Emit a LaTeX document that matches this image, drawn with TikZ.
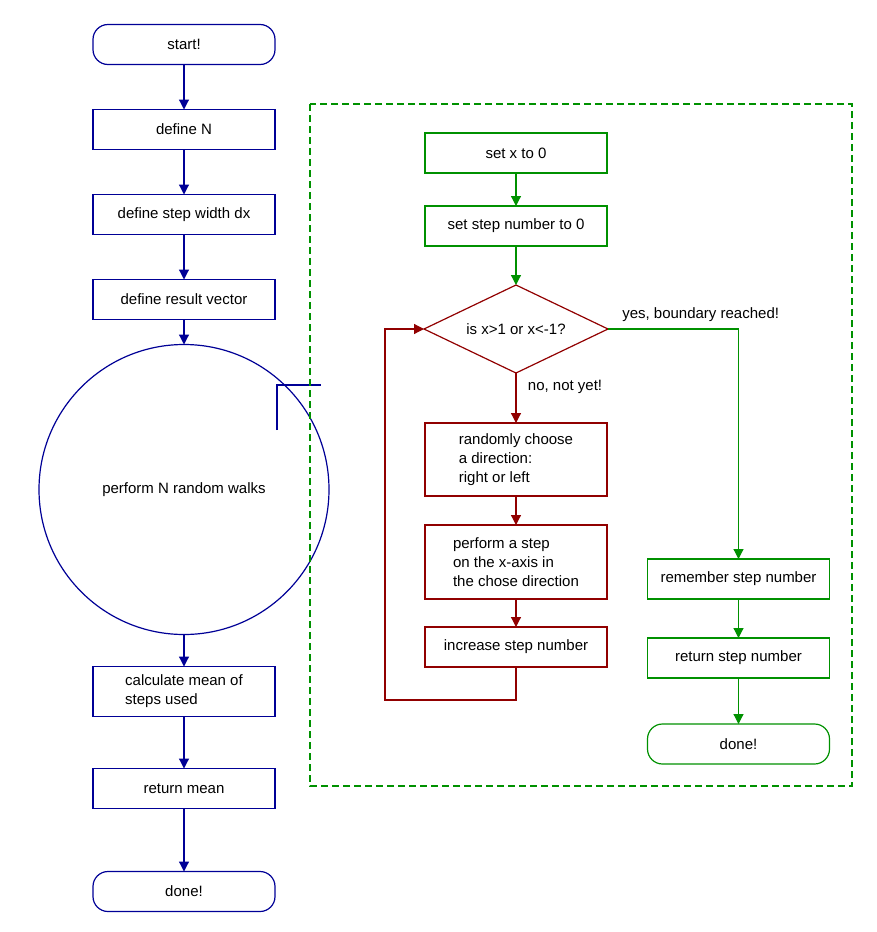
\documentclass[tikz,border=0pt]{standalone}
\usepackage{fontspec}
\setmainfont{Liberation Sans}
\usetikzlibrary{positioning,shapes.geometric,arrows.meta}
\definecolor{flowblue}{RGB}{0,0,150}
\definecolor{flowred}{RGB}{145,0,0}
\definecolor{flowgreen}{RGB}{0,145,0}

\begin{document}
\begin{tikzpicture}[x=1pt,y=-1pt,->,>={Triangle[length=10pt,width=10pt]},line width=1.2pt,node distance=45pt,
    box/.style={shape=rectangle,draw=#1,outer sep=0pt,minimum width=182pt,minimum height=40pt,align=left,font=\fontsize{15}{19}\selectfont},
    box/.default=black,
    end box/.style={box=#1,rounded corners=15pt},
    lbl/.style={text=black,font=\fontsize{15}{19}\selectfont}]
    \useasboundingbox (0,0) rectangle (876,932);

    % main program
    \node[end box=flowblue] (start) at (184,44.5) {start!};
    \node[box=flowblue] (defN) [below=of start] {define N};
    \node[box=flowblue] (defdx) [below=of defN] {define step width dx};
    \node[box=flowblue] (defres) [below=of defdx] {define result vector};
    \node[circle,draw=flowblue,outer sep=0pt,minimum size=290pt,font=\fontsize{15}{19}\selectfont] (walks) [below=25pt of defres] {perform N random walks};
    \node[box=flowblue,minimum height=50pt] (mean) [below=32pt of walks] {calculate mean of\\steps used};
    \node[box=flowblue] (retmean) [below=52pt of mean] {return mean};
    \node[end box=flowblue] (done) [below=63pt of retmean] {done!};

    \path[flowblue]
        (start) edge (defN)
        (defN) edge (defdx)
        (defdx) edge (defres)
        (defres) edge (walks)
        (walks) edge (mean)
        (mean) edge (retmean)
        (retmean) edge (done)
        ;
    \draw[-,flowblue] (277,430) |- (321,385);

    % one random walk
    \draw[-,flowgreen,dash pattern=on 7pt off 4pt] (310,104) rectangle (852,786);

    \node[box=flowgreen] (setx) at (516,153) {set x to 0};
    \node[box=flowgreen] (setstep) [below=33pt of setx] {set step number to 0};
    \node[shape=diamond,draw=flowred,aspect=2.1,inner sep=0pt,outer sep=0pt,minimum width=184pt,minimum height=88pt,font=\fontsize{15}{19}\selectfont] (check) [below=39pt of setstep] {is x>1 or x<-1?};
    \node[box=flowred,minimum height=73pt] (choose) [below=50pt of check] {randomly choose\\a direction:\\right or left};
    \node[box=flowred,minimum height=74pt] (move) [below=29pt of choose] {perform a step\\on the x-axis in\\the chose direction};
    \node[box=flowred] (incr) [below=28pt of move] {increase step number};

    \node[box=flowgreen] (remember) at (738.5,579) {remember step number};
    \node[box=flowgreen] (retstep) [below=39pt of remember] {return step number};
    \node[end box=flowgreen] (done2) [below=46pt of retstep] {done!};

    \path[flowgreen]
        (setx) edge (setstep)
        (setstep) edge (check)
        (remember) edge (retstep)
        (retstep) edge (done2)
        ;
    \path[flowred]
        (check) edge node[lbl,pos=0.28,right=8pt] {no, not yet!} (choose)
        (choose) edge (move)
        (move) edge (incr)
        ;
    \draw[flowred] (incr.south) -- ++(0,33) -| ([xshift=-39pt]check.west) -- (check.west);
    \draw[flowgreen] (check.east) -| node[lbl,pos=0.355,above=3pt] {yes, boundary reached!} (remember.north);
\end{tikzpicture}
\end{document}
